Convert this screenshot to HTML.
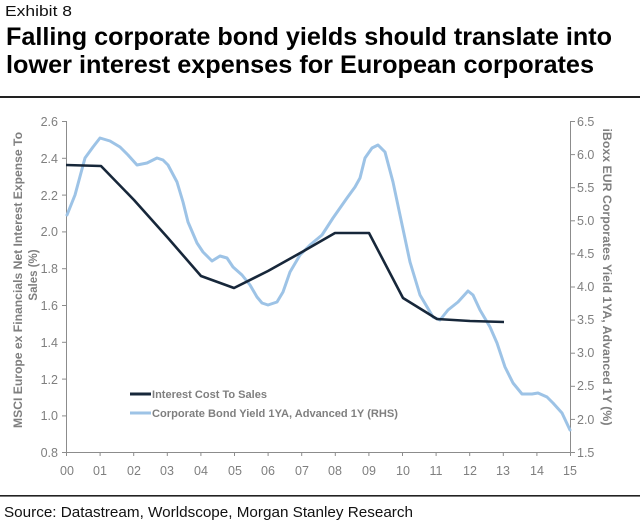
<!DOCTYPE html>
<html>
<head>
<meta charset="utf-8">
<style>
  html,body{margin:0;padding:0;background:#fff;}
  body{width:640px;height:527px;overflow:hidden;}
  svg{display:block;font-family:"Liberation Sans",Arial,sans-serif;}
</style>
</head>
<body>
<svg width="640" height="527" viewBox="0 0 640 527" xmlns="http://www.w3.org/2000/svg">
  <rect width="640" height="527" fill="#fff"/>
  <!-- Header -->
  <text x="5" y="16" font-size="15" fill="#111" textLength="67" lengthAdjust="spacingAndGlyphs">Exhibit 8</text>
  <text x="6" y="45" font-size="25" font-weight="bold" fill="#000" textLength="606" lengthAdjust="spacingAndGlyphs">Falling corporate bond yields should translate into</text>
  <text x="6" y="73" font-size="25" font-weight="bold" fill="#000" textLength="588" lengthAdjust="spacingAndGlyphs">lower interest expenses for European corporates</text>
  <rect x="0" y="96" width="640" height="2" fill="#222"/>

  <!-- Axes -->
  <g stroke="#8c8c8c" stroke-width="1" fill="none">
    <line x1="66.5" y1="121" x2="66.5" y2="452"/>
    <line x1="570.5" y1="121" x2="570.5" y2="452"/>
    <line x1="66" y1="452.5" x2="571" y2="452.5"/>
    <!-- left ticks -->
    <line x1="62" y1="121.5" x2="66" y2="121.5"/>
    <line x1="62" y1="158.3" x2="66" y2="158.3"/>
    <line x1="62" y1="195.1" x2="66" y2="195.1"/>
    <line x1="62" y1="231.9" x2="66" y2="231.9"/>
    <line x1="62" y1="268.7" x2="66" y2="268.7"/>
    <line x1="62" y1="305.5" x2="66" y2="305.5"/>
    <line x1="62" y1="342.3" x2="66" y2="342.3"/>
    <line x1="62" y1="379.1" x2="66" y2="379.1"/>
    <line x1="62" y1="415.9" x2="66" y2="415.9"/>
    <line x1="62" y1="452.5" x2="66" y2="452.5"/>
    <!-- right ticks -->
    <line x1="571" y1="121.5" x2="575" y2="121.5"/>
    <line x1="571" y1="154.6" x2="575" y2="154.6"/>
    <line x1="571" y1="187.7" x2="575" y2="187.7"/>
    <line x1="571" y1="220.8" x2="575" y2="220.8"/>
    <line x1="571" y1="253.9" x2="575" y2="253.9"/>
    <line x1="571" y1="287.0" x2="575" y2="287.0"/>
    <line x1="571" y1="320.1" x2="575" y2="320.1"/>
    <line x1="571" y1="353.2" x2="575" y2="353.2"/>
    <line x1="571" y1="386.3" x2="575" y2="386.3"/>
    <line x1="571" y1="419.4" x2="575" y2="419.4"/>
    <line x1="571" y1="452.5" x2="575" y2="452.5"/>
    <!-- x ticks -->
    <line x1="66.5" y1="452" x2="66.5" y2="456"/>
    <line x1="100.1" y1="452" x2="100.1" y2="456"/>
    <line x1="133.7" y1="452" x2="133.7" y2="456"/>
    <line x1="167.3" y1="452" x2="167.3" y2="456"/>
    <line x1="200.9" y1="452" x2="200.9" y2="456"/>
    <line x1="234.5" y1="452" x2="234.5" y2="456"/>
    <line x1="268.1" y1="452" x2="268.1" y2="456"/>
    <line x1="301.7" y1="452" x2="301.7" y2="456"/>
    <line x1="335.3" y1="452" x2="335.3" y2="456"/>
    <line x1="368.9" y1="452" x2="368.9" y2="456"/>
    <line x1="402.5" y1="452" x2="402.5" y2="456"/>
    <line x1="436.1" y1="452" x2="436.1" y2="456"/>
    <line x1="469.7" y1="452" x2="469.7" y2="456"/>
    <line x1="503.3" y1="452" x2="503.3" y2="456"/>
    <line x1="536.9" y1="452" x2="536.9" y2="456"/>
    <line x1="570.5" y1="452" x2="570.5" y2="456"/>
  </g>

  <!-- Left tick labels -->
  <g font-size="12.5" fill="#7f7f7f" text-anchor="end">
    <text x="58" y="126">2.6</text>
    <text x="58" y="163">2.4</text>
    <text x="58" y="200">2.2</text>
    <text x="58" y="236">2.0</text>
    <text x="58" y="273">1.8</text>
    <text x="58" y="310">1.6</text>
    <text x="58" y="347">1.4</text>
    <text x="58" y="384">1.2</text>
    <text x="58" y="420">1.0</text>
    <text x="58" y="457">0.8</text>
  </g>
  <!-- Right tick labels -->
  <g font-size="12.5" fill="#7f7f7f" text-anchor="start">
    <text x="577" y="126">6.5</text>
    <text x="577" y="159">6.0</text>
    <text x="577" y="192">5.5</text>
    <text x="577" y="225">5.0</text>
    <text x="577" y="258">4.5</text>
    <text x="577" y="291">4.0</text>
    <text x="577" y="324">3.5</text>
    <text x="577" y="357">3.0</text>
    <text x="577" y="390">2.5</text>
    <text x="577" y="424">2.0</text>
    <text x="577" y="457">1.5</text>
  </g>
  <!-- X labels -->
  <g font-size="12.5" fill="#7f7f7f" text-anchor="middle">
    <text x="67" y="475">00</text>
    <text x="100" y="475">01</text>
    <text x="134" y="475">02</text>
    <text x="167" y="475">03</text>
    <text x="201" y="475">04</text>
    <text x="235" y="475">05</text>
    <text x="268" y="475">06</text>
    <text x="302" y="475">07</text>
    <text x="335" y="475">08</text>
    <text x="369" y="475">09</text>
    <text x="403" y="475">10</text>
    <text x="436" y="475">11</text>
    <text x="470" y="475">12</text>
    <text x="503" y="475">13</text>
    <text x="537" y="475">14</text>
    <text x="570" y="475">15</text>
  </g>

  <!-- Axis titles -->
  <g font-size="11.5" font-weight="bold" fill="#7f7f7f" text-anchor="middle">
    <text transform="translate(22,280) rotate(-90)" textLength="296" lengthAdjust="spacingAndGlyphs">MSCI Europe ex Financials Net Interest Expense To</text>
    <text transform="translate(37,275) rotate(-90)">Sales (%)</text>
    <text transform="translate(603,277) rotate(90)" textLength="297" lengthAdjust="spacingAndGlyphs">iBoxx EUR Corporates Yield 1YA, Advanced 1Y (%)</text>
  </g>

  <!-- Series: light blue -->
  <polyline fill="none" stroke="#9dc3e6" stroke-width="3" stroke-linejoin="round" stroke-linecap="round"
    points="67,215 75,195 85,158 93,147 100,138 110,141 120,147 128,155 137,165 147,163 157,158 163,160 168,165 177,182 183,202 188,222 197,243 203,252 212,261 220,256 227,258 233,267 242,275 250,285 257,297 262,303 268,305 277,302 283,292 290,272 300,255 310,245 322,235 333,218 347,198 355,187 360,178 365,158 372,148 378,145 385,152 393,182 400,215 410,262 420,295 433,317 440,320 448,310 458,302 468,291 473,295 480,310 490,327 497,343 505,367 513,383 522,394 532,394 538,393 547,397 553,403 562,413 570,430"/>
  <!-- Series: dark -->
  <polyline fill="none" stroke="#17273a" stroke-width="2.6" stroke-linejoin="round"
    points="66,165 101,166 134,200 168,238 201,276 234,288 268,271 302,252 335,233 369,233 403,298 437,319 470,321 504,322"/>

  <!-- Legend -->
  <line x1="130" y1="394" x2="151" y2="394" stroke="#17273a" stroke-width="3"/>
  <text x="152" y="398" font-size="11" font-weight="bold" fill="#7f7f7f" textLength="115" lengthAdjust="spacingAndGlyphs">Interest Cost To Sales</text>
  <line x1="130" y1="413" x2="151" y2="413" stroke="#9dc3e6" stroke-width="3"/>
  <text x="152" y="417" font-size="11" font-weight="bold" fill="#7f7f7f" textLength="246" lengthAdjust="spacingAndGlyphs">Corporate Bond Yield 1YA, Advanced 1Y (RHS)</text>

  <!-- Footer -->
  <rect x="0" y="495" width="640" height="1.6" fill="#222"/>
  <text x="4" y="517" font-size="15" fill="#111" textLength="409" lengthAdjust="spacingAndGlyphs">Source: Datastream, Worldscope, Morgan Stanley Research</text>
</svg>
</body>
</html>
